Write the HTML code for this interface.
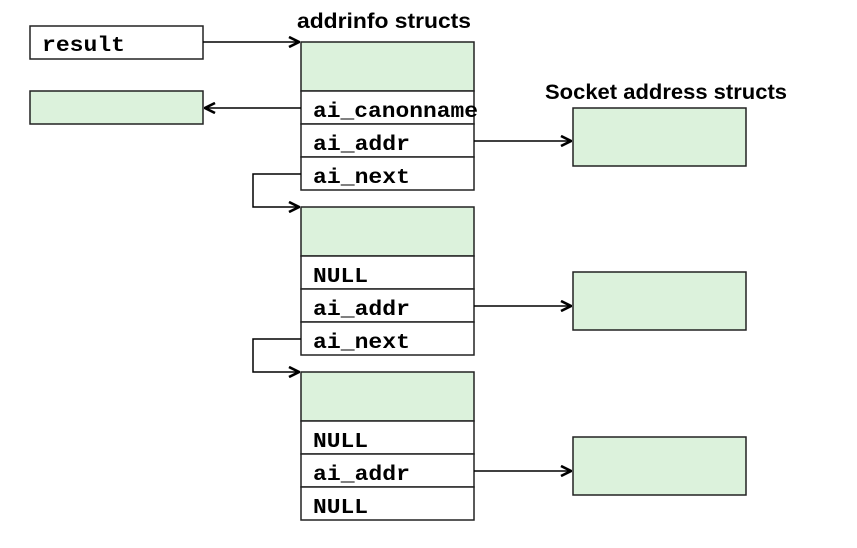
<!DOCTYPE html>
<html><head><meta charset="utf-8"><style>
html,body{margin:0;padding:0;background:#fff;}
svg{display:block;}
.m{font-family:"Liberation Mono",monospace;font-weight:bold;font-size:21px;fill:#000;}
.t{font-family:"Liberation Sans",sans-serif;font-weight:bold;font-size:21px;fill:#000;}
</style></head><body>
<svg width="857" height="548" viewBox="0 0 857 548" xmlns="http://www.w3.org/2000/svg">
<defs>
<marker id="a" viewBox="0 0 12 12" refX="11" refY="6" markerWidth="12" markerHeight="12" markerUnits="userSpaceOnUse" orient="auto">
<path d="M1,1 L11,6 L1,11" fill="none" stroke="#000" stroke-width="2.6"/>
</marker>
</defs>
<g stroke="#222" stroke-width="1.5">
<rect x="30" y="26" width="173" height="33" fill="#fff"/>
<rect x="30" y="91" width="173" height="33" fill="#dcf2dc"/>
<rect x="301" y="42" width="173" height="49" fill="#dcf2dc"/>
<rect x="301" y="91" width="173" height="33" fill="#fff"/>
<rect x="301" y="124" width="173" height="33" fill="#fff"/>
<rect x="301" y="157" width="173" height="33" fill="#fff"/>
<rect x="301" y="207" width="173" height="49" fill="#dcf2dc"/>
<rect x="301" y="256" width="173" height="33" fill="#fff"/>
<rect x="301" y="289" width="173" height="33" fill="#fff"/>
<rect x="301" y="322" width="173" height="33" fill="#fff"/>
<rect x="301" y="372" width="173" height="49" fill="#dcf2dc"/>
<rect x="301" y="421" width="173" height="33" fill="#fff"/>
<rect x="301" y="454" width="173" height="33" fill="#fff"/>
<rect x="301" y="487" width="173" height="33" fill="#fff"/>
<rect x="573" y="108" width="173" height="58" fill="#dcf2dc"/>
<rect x="573" y="272" width="173" height="58" fill="#dcf2dc"/>
<rect x="573" y="437" width="173" height="58" fill="#dcf2dc"/>
</g>
<g stroke="#000" stroke-width="1.5" fill="none">
<path d="M203,42 H299" marker-end="url(#a)"/>
<path d="M301,108 H205" marker-end="url(#a)"/>
<path d="M474,141 H571" marker-end="url(#a)"/>
<path d="M474,306 H571" marker-end="url(#a)"/>
<path d="M474,471 H571" marker-end="url(#a)"/>
<path d="M301,174 H253 V207 H299" marker-end="url(#a)"/>
<path d="M301,339 H253 V372 H299" marker-end="url(#a)"/>
</g>
<text class="t" x="297" y="28" textLength="174" lengthAdjust="spacingAndGlyphs">addrinfo structs</text>
<text class="t" x="545" y="99" textLength="242" lengthAdjust="spacingAndGlyphs">Socket address structs</text>
<text class="m" x="42" y="51" textLength="83" lengthAdjust="spacingAndGlyphs">result</text>
<text class="m" x="313" y="117" textLength="165" lengthAdjust="spacingAndGlyphs">ai_canonname</text>
<text class="m" x="313" y="150" textLength="97" lengthAdjust="spacingAndGlyphs">ai_addr</text>
<text class="m" x="313" y="183" textLength="97" lengthAdjust="spacingAndGlyphs">ai_next</text>
<text class="m" x="313" y="282" textLength="55" lengthAdjust="spacingAndGlyphs">NULL</text>
<text class="m" x="313" y="315" textLength="97" lengthAdjust="spacingAndGlyphs">ai_addr</text>
<text class="m" x="313" y="348" textLength="97" lengthAdjust="spacingAndGlyphs">ai_next</text>
<text class="m" x="313" y="447" textLength="55" lengthAdjust="spacingAndGlyphs">NULL</text>
<text class="m" x="313" y="480" textLength="97" lengthAdjust="spacingAndGlyphs">ai_addr</text>
<text class="m" x="313" y="513" textLength="55" lengthAdjust="spacingAndGlyphs">NULL</text>
</svg>
</body></html>
